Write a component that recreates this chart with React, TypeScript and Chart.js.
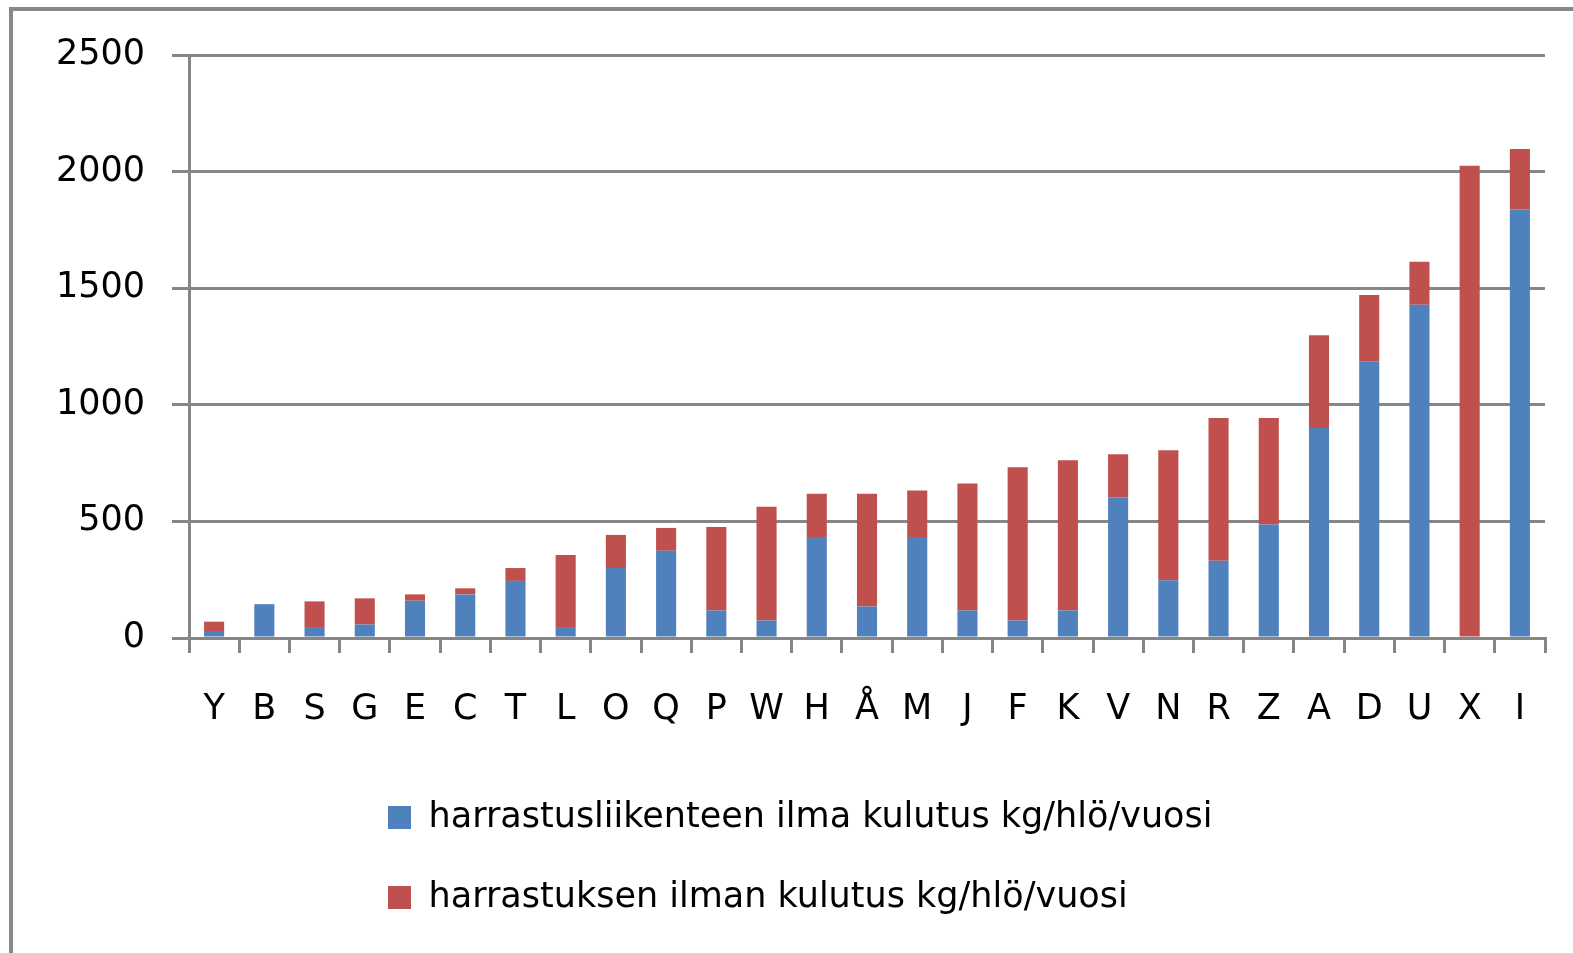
import React, { useEffect, useRef } from "react";
import { Chart, registerables } from "chart.js";

Chart.register(...registerables);

const categories = ["Y", "B", "S", "G", "E", "C", "T", "L", "O", "Q", "P", "W", "H", "Å", "M", "J", "F", "K", "V", "N", "R", "Z", "A", "D", "U", "X", "I"];
const airConsumption = [30, 145, 47, 58, 160, 187, 245, 47, 300, 374, 118, 75, 433, 135, 433, 118, 75, 118, 603, 248, 331, 487, 900, 1187, 1429, 0, 1837];
const hobbyConsumption = [40, 0, 110, 112, 27, 26, 55, 309, 142, 98, 358, 488, 186, 484, 199, 544, 657, 644, 185, 557, 612, 456, 398, 284, 184, 2025, 260];
const seriesNames = ["harrastusliikenteen ilma kulutus kg/hlö/vuosi", "harrastuksen ilman kulutus kg/hlö/vuosi"];
const yMin = 0;
const yMax = 2500;
const yStep = 500;

const GRID = "#868686";
const FONT = "DejaVu Sans";

const legendPlacer = {
  id: "legendPlacer",
  beforeDraw(chart: any) {
    const lg = chart.legend;
    if (lg) {
      lg.left = 343;
      lg.top = 755;
      lg.right = 1573;
      lg.bottom = 953;
    }
  },
};

export default function App() {
  const ref = useRef<HTMLCanvasElement | null>(null);
  useEffect(() => {
    if (!ref.current) return;
    const chart = new Chart(ref.current, {
      type: "bar",
      data: {
        labels: categories,
        datasets: [
          { label: seriesNames[0], data: airConsumption, backgroundColor: "#4F81BD", borderWidth: 0, barPercentage: 0.4, categoryPercentage: 1 },
          { label: seriesNames[1], data: hobbyConsumption, backgroundColor: "#C0504D", borderWidth: 0, barPercentage: 0.4, categoryPercentage: 1 },
        ],
      },
      options: {
        animation: false,
        responsive: false,
        devicePixelRatio: 1,
        layout: { padding: { left: 0, right: 28, top: 55, bottom: 16 } },
        plugins: {
          tooltip: { enabled: false },
          legend: {
            position: "bottom",
            align: "start",
            labels: {
              font: { family: FONT, size: 35 },
              color: "#000",
              boxWidth: 23,
              boxHeight: 23,
              padding: 45,
            },
          },
        },
        scales: {
          x: {
            stacked: true,
            grid: { display: true, drawOnChartArea: false, drawTicks: true, tickLength: 15, color: GRID, lineWidth: 3, offset: true },
            border: { display: true, color: GRID, width: 3 },
            ticks: { font: { family: FONT, size: 35 }, color: "#000", padding: 36, maxRotation: 0, autoSkip: false },
          },
          y: {
            stacked: true,
            min: yMin,
            max: yMax,
            grid: { color: GRID, lineWidth: 3, tickLength: 17, drawTicks: true },
            border: { display: true, color: GRID, width: 3 },
            ticks: {
              stepSize: yStep,
              font: { family: FONT, size: 35 },
              color: "#000",
              padding: 27,
              callback: (v: any) => String(v),
            },
            afterFit: (scale: any) => {
              scale.width = 189;
            },
          },
        },
      },
      plugins: [legendPlacer],
    });
    return () => chart.destroy();
  }, []);
  return (
    <div style={{ position: "fixed", left: 0, top: 0, width: 1573, height: 953, background: "#fff", overflow: "hidden" }}>
      <canvas ref={ref} width={1573} height={953} style={{ position: "absolute", left: 0, top: 0, display: "block" }} />
      <div style={{ position: "absolute", left: 9, top: 7, width: 1600, height: 1000, borderLeft: "4px solid #888", borderTop: "4px solid #888", pointerEvents: "none" }} />
    </div>
  );
}
